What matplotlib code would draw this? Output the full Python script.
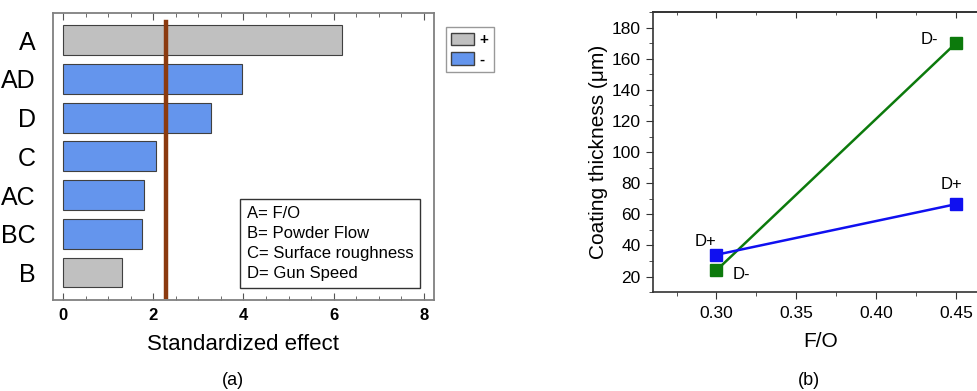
import matplotlib
matplotlib.use("Agg")
import matplotlib.pyplot as plt
from matplotlib.patches import Patch
import numpy as np

plt.rcParams['font.family'] = ['Liberation Sans', 'DejaVu Sans']

# (a) Pareto chart of standardized effects
terminos = ['A', 'AD', 'D', 'C', 'AC', 'BC', 'B']
efectos = [6.19, 3.96, 3.27, 2.05, 1.80, 1.74, 1.30]
signos = ['+', '-', '-', '-', '-', '-', '+']
limite = 2.29
factores = ['A= F/O', 'B= Powder Flow', 'C= Surface roughness', 'D= Gun Speed']

# (b) interaction plot
fo = [0.30, 0.45]
d_menos = [24, 170]
d_mas = [34, 66.5]

color_signo = {'+': '#c0c0c0', '-': '#6495ed'}

fig = plt.figure(figsize=(9.77, 3.91), dpi=100)

# ---- panel (a)
ax1 = fig.add_axes([0.0539, 0.2327, 0.3906, 0.7348])
pos = np.arange(len(terminos))[::-1]
ax1.barh(pos, efectos, height=0.77, color=[color_signo[s] for s in signos],
         edgecolor='#404040', linewidth=0.8)
ax1.axvline(limite, ymin=0.011, ymax=0.968, color='#8b3a0f', lw=3.2)
ax1.set_xlim(-0.23, 8.23)
ax1.set_ylim(-0.71, 6.71)
ax1.set_yticks(pos, terminos, fontsize=18)
ax1.tick_params(axis='y', length=0, pad=12)
ax1.set_xticks([0, 2, 4, 6, 8])
ax1.set_xticks(np.arange(0, 8.01, 0.5), minor=True)
for t in ax1.get_xticklabels():
    t.set_fontweight('bold')
ax1.tick_params(axis='x', which='both', direction='in', top=True, labelsize=12,
                color='#555555', pad=6)
ax1.tick_params(axis='x', which='major', length=5)
ax1.tick_params(axis='x', which='minor', length=3)
for s in ax1.spines.values():
    s.set_color('#808080')
    s.set_linewidth(1.3)
ax1.set_xlabel('Standardized effect', fontsize=16, labelpad=8)

ax1.text(0.509, 0.328, '\n'.join(factores), transform=ax1.transAxes,
         fontsize=12, va='top', ha='left', linespacing=1.42,
         bbox=dict(boxstyle='square,pad=0.4', fc='white', ec='#333333', lw=1))

handles = [Patch(fc=color_signo['+'], ec='#404040', label='+'),
           Patch(fc=color_signo['-'], ec='#404040', label='-')]
leg = ax1.legend(handles=handles, loc='upper left', bbox_to_anchor=(1.031, 0.949),
                 fancybox=False, edgecolor='#808080', fontsize=11,
                 handlelength=1.5, handleheight=0.9, handletextpad=0.35,
                 borderpad=0.35, labelspacing=0.3, borderaxespad=0)
for t in leg.get_texts():
    t.set_fontweight('bold')

fig.text(0.2385, 0.028, '(a)', ha='center', va='center', fontsize=13)

# ---- panel (b)
ax2 = fig.add_axes([0.668, 0.253, 0.343, 0.716])
ax2.plot(fo, d_menos, color='#0c7a0c', lw=1.8, marker='s', ms=9)
ax2.plot(fo, d_mas, color='#1010f0', lw=1.8, marker='s', ms=9)
ax2.set_xlim(0.26, 0.47)
ax2.set_ylim(10, 190)
ax2.set_xticks([0.30, 0.35, 0.40, 0.45])
ax2.set_xticks(np.arange(0.275, 0.47, 0.025), minor=True)
ax2.set_yticks(np.arange(20, 181, 20))
ax2.set_yticks(np.arange(10, 191, 10), minor=True)
ax2.xaxis.set_major_formatter(matplotlib.ticker.FormatStrFormatter('%.2f'))
ax2.tick_params(axis='both', which='both', direction='out', labelsize=12.5, color='#333333')
ax2.tick_params(axis='both', which='major', length=5)
ax2.tick_params(axis='both', which='minor', length=3)
ax2.tick_params(axis='x', pad=5)
ax2.spines['right'].set_visible(False)
for s in ax2.spines.values():
    s.set_color('#333333')
    s.set_linewidth(1.2)
# inward ticks along the top edge
sec = ax2.secondary_xaxis('top')
sec.set_xticks([0.30, 0.35, 0.40, 0.45])
sec.set_xticks(np.arange(0.275, 0.47, 0.025), minor=True)
sec.tick_params(axis='x', which='both', direction='in', labeltop=False, color='#333333')
sec.tick_params(axis='x', which='major', length=4)
sec.tick_params(axis='x', which='minor', length=2)
sec.spines['top'].set_color('#333333')
sec.spines['top'].set_linewidth(1.2)

ax2.set_xlabel('F/O', fontsize=15, labelpad=8)
ax2.set_ylabel('Coating thickness (μm)', fontsize=15, labelpad=3)

ax2.annotate('D-', (fo[1], d_menos[1]), xytext=(-26, 4), textcoords='offset pixels',
             ha='center', va='center', fontsize=12)
ax2.annotate('D+', (fo[1], d_mas[1]), xytext=(-4, 20), textcoords='offset pixels',
             ha='center', va='center', fontsize=12)
ax2.annotate('D+', (fo[0], d_mas[0]), xytext=(-11, 13), textcoords='offset pixels',
             ha='center', va='center', fontsize=12)
ax2.annotate('D-', (fo[0], d_menos[0]), xytext=(25, -4), textcoords='offset pixels',
             ha='center', va='center', fontsize=12)

fig.text(0.828, 0.028, '(b)', ha='center', va='center', fontsize=13)

fig.savefig('out.png', dpi=100)
